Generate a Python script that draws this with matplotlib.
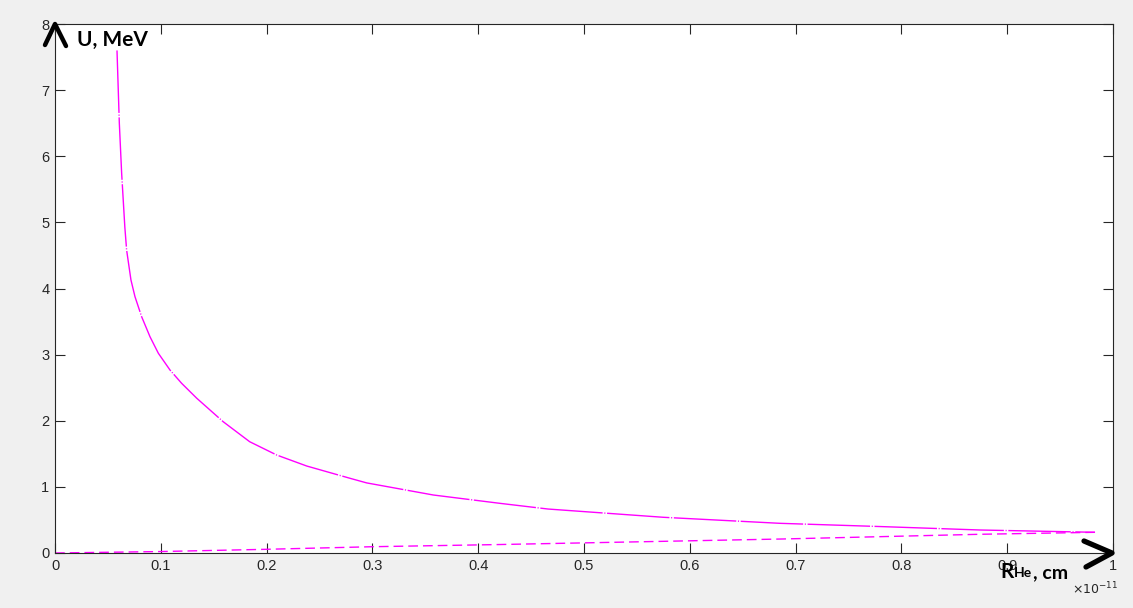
import matplotlib
matplotlib.use('Agg')
import matplotlib.pyplot as plt
from matplotlib.lines import Line2D

plt.rcParams['font.family'] = ['Liberation Sans', 'DejaVu Sans']
plt.rcParams['lines.scale_dashes'] = False

# ============================================================
# data (x in units of 1e-11 cm, U in MeV)
# ============================================================
r_coul = [0.0586, 0.0608, 0.063, 0.066, 0.0677, 0.0718, 0.0756, 0.0819, 0.0898,
          0.0977, 0.1087, 0.1197, 0.134, 0.159, 0.184, 0.2095, 0.238, 0.279,
          0.2946, 0.3576, 0.4206, 0.466, 0.575, 0.685, 0.78, 0.874, 0.983]
u_coul = [7.6, 6.5, 5.74, 4.93, 4.58, 4.128, 3.876, 3.573, 3.27,
          3.02, 2.767, 2.566, 2.34, 1.985, 1.683, 1.482, 1.315, 1.129,
          1.06, 0.877, 0.751, 0.665, 0.54, 0.449, 0.40, 0.348, 0.313]

r_lin = [0.0, 0.1, 0.2, 0.3, 0.42, 0.688, 0.78, 0.874, 0.983]
u_lin = [0.0, 0.022, 0.056, 0.095, 0.128, 0.212, 0.247, 0.283, 0.313]

x_ticks = [0, 0.1, 0.2, 0.3, 0.4, 0.5, 0.6, 0.7, 0.8, 0.9, 1]
x_labels = ['0', '0.1', '0.2', '0.3', '0.4', '0.5', '0.6', '0.7', '0.8', '0.9', '1']
y_ticks = [0, 1, 2, 3, 4, 5, 6, 7, 8]

W, H = 1133, 608
MAG = '#ff00ff'
INK = '#262626'


def px(x, y):
    # pixel (from top-left) -> figure fraction
    return x / W, 1 - y / H


fig = plt.figure(figsize=(W / 100, H / 100), dpi=100, facecolor='#f0f0f0')
ax = fig.add_axes([55 / W, 1 - 553 / H, (1113 - 55) / W, (553 - 24) / H])
ax.set_facecolor('white')

ax.plot(r_coul, u_coul, color=MAG, linewidth=1.0, linestyle=(0, (45, 1.2, 0.8, 1.2)))
ax.plot(r_lin, u_lin, color=MAG, linewidth=1.0, linestyle=(0, (7, 3.6)))

ax.set_xlim(0, 1)
ax.set_ylim(0, 8)
ax.set_xticks(x_ticks)
ax.set_xticklabels(x_labels)
ax.set_yticks(y_ticks)
ax.tick_params(direction='in', length=7.5, width=0.8, colors=INK, labelsize=10.5,
               top=True, right=True, pad=4)
for s in ax.spines.values():
    s.set_color(INK)
    s.set_linewidth(0.8)

# hand-drawn axis arrows
up = [px(45, 45), px(55, 24), px(66, 46)]
fig.add_artist(Line2D([p[0] for p in up], [p[1] for p in up], color='black',
                      linewidth=3.2, solid_capstyle='round', solid_joinstyle='round',
                      transform=fig.transFigure))
rt = [px(1084, 541), px(1112, 553), px(1086, 567)]
fig.add_artist(Line2D([p[0] for p in rt], [p[1] for p in rt], color='black',
                      linewidth=3.8, solid_capstyle='round', solid_joinstyle='round',
                      transform=fig.transFigure))

fig.text(*px(77, 46), 'U, MeV', fontsize=15, fontweight='bold', family='Lato',
         ha='left', va='baseline', color='black')
fig.text(*px(1000, 578), 'R', fontsize=15, fontweight='bold', family='Lato',
         ha='left', va='baseline', color='black')
fig.text(*px(1014, 577), 'He', fontsize=10, fontweight='bold', family='Lato',
         ha='left', va='baseline', color='black')
fig.text(*px(1033, 578), ', cm', fontsize=14, fontweight='bold', family='Lato',
         ha='left', va='baseline', color='black')

fig.text(*px(1072, 594), r'$\times10^{-11}$', fontsize=9, color=INK,
         ha='left', va='baseline')

plt.savefig('out.png', dpi=100, facecolor=fig.get_facecolor())
